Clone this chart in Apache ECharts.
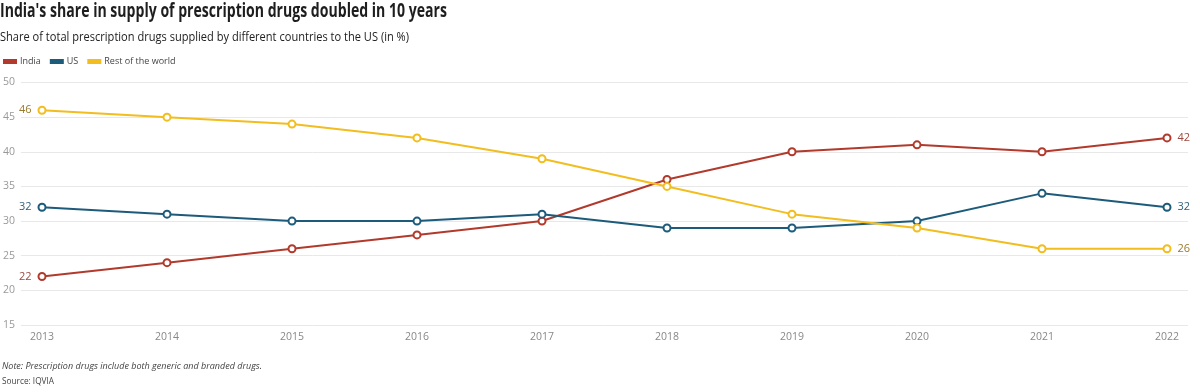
<!DOCTYPE html>
<html>
<head>
<meta charset="utf-8">
<script src="https://cdn.jsdelivr.net/npm/echarts@6/dist/echarts.min.js"></script>
<style>
html,body{margin:0;padding:0;background:#fff;}
#c{width:1200px;height:392px;}
</style>
</head>
<body>
<div id="c"></div>
<script>
const years = ['2013','2014','2015','2016','2017','2018','2019','2020','2021','2022'];
const india = [22, 24, 26, 28, 30, 36, 40, 41, 40, 42];
const us = [32, 31, 30, 30, 31, 29, 29, 30, 34, 32];
const rest = [46, 45, 44, 42, 39, 35, 31, 29, 26, 26];
const seriesNames = ['India', 'US', 'Rest of the world'];
const yTicks = [15, 20, 25, 30, 35, 40, 45, 50];

const titleText = "India's share in supply of prescription drugs doubled in 10 years";
const subtitleText = 'Share of total prescription drugs supplied by different countries to the US (in %)';
const noteText = 'Note: Prescription drugs include both generic and branded drugs.';
const sourceText = 'Source: IQVIA';

const colors = ['#b23a2c', '#1d5b7b', '#f2bd1e'];
const labelColors = ['#9a4a40', '#2f5f7a', '#9a7a2a'];
const FAM = '"Open Sans", "Noto Sans", sans-serif';
const FONT = FAM;
const last = years.length - 1;

const mctx = document.createElement('canvas').getContext('2d');
function fitText(text, font, x, y, targetW, fill) {
  mctx.font = font;
  const w = mctx.measureText(text).width;
  return {
    type: 'text', x: x, y: y, scaleX: targetW / w, silent: true,
    style: { text: text, font: font, fill: fill, verticalAlign: 'middle', align: 'left' }
  };
}

function mk(name, data, i) {
  return {
    name: name,
    type: 'line',
    xAxisIndex: 0, yAxisIndex: 0,
    data: data.map((v, k) => {
      const d = { value: v };
      if (k === 0) d.label = { show: true, position: 'left', distance: 6 };
      if (k === last) d.label = { show: true, position: 'right', distance: 6 };
      return d;
    }),
    symbol: 'emptyCircle',
    symbolSize: 7,
    showAllSymbol: true,
    lineStyle: { color: colors[i], width: 2 },
    itemStyle: { color: colors[i], borderColor: colors[i], borderWidth: 2 },
    label: { show: false, color: labelColors[i], fontSize: 11, fontFamily: FONT },
    emphasis: { disabled: true },
    animation: false
  };
}

const chart = echarts.init(document.getElementById('c'), null, { renderer: 'canvas' });
chart.setOption({
  backgroundColor: '#fff',
  animation: false,
  graphic: [
    fitText(titleText, 'bold 19px ' + FAM, 0, 12, 447, '#1e1e1e'),
    fitText(subtitleText, '13px ' + FAM, 0, 37, 409, '#222'),
    fitText(noteText, 'italic 9.5px ' + FAM, 2, 366, 260, '#444'),
    fitText(sourceText, '9.5px ' + FAM, 2, 381, 52, '#444')
  ],
  legend: {
    data: seriesNames,
    left: 3, top: 57, padding: 0,
    icon: 'rect', itemWidth: 12, itemHeight: 3, itemGap: 9,
    textStyle: { fontFamily: FONT, fontSize: 9, color: '#444', padding: [0, 0, 0, -1] },
    selectedMode: false
  },
  grid: [
    { left: 42, right: 33, top: 82.5, bottom: 67 },
    { left: 20, right: 12, top: 82.5, bottom: 67 }
  ],
  xAxis: [
    { type: 'category', gridIndex: 0, data: years, boundaryGap: false,
      axisLine: { show: false }, axisTick: { show: false },
      axisLabel: { color: '#888', fontSize: 10.5, fontFamily: FONT, margin: 7 },
      splitLine: { show: false } },
    { type: 'category', gridIndex: 1, data: years, show: false }
  ],
  yAxis: [
    { type: 'value', gridIndex: 0, min: 15, max: 50, interval: 5,
      axisLabel: { show: false }, axisLine: { show: false }, axisTick: { show: false },
      splitLine: { show: false } },
    { type: 'value', gridIndex: 1, min: yTicks[0], max: yTicks[yTicks.length - 1], interval: 5,
      axisLine: { show: false }, axisTick: { show: false },
      axisLabel: { color: '#999', fontSize: 10.5, fontFamily: FONT, margin: 6 },
      splitLine: { show: true, lineStyle: { color: '#e8e8e8', width: 1 } } }
  ],
  series: [
    mk(seriesNames[0], india, 0),
    mk(seriesNames[1], us, 1),
    mk(seriesNames[2], rest, 2)
  ]
});
</script>
</body>
</html>
